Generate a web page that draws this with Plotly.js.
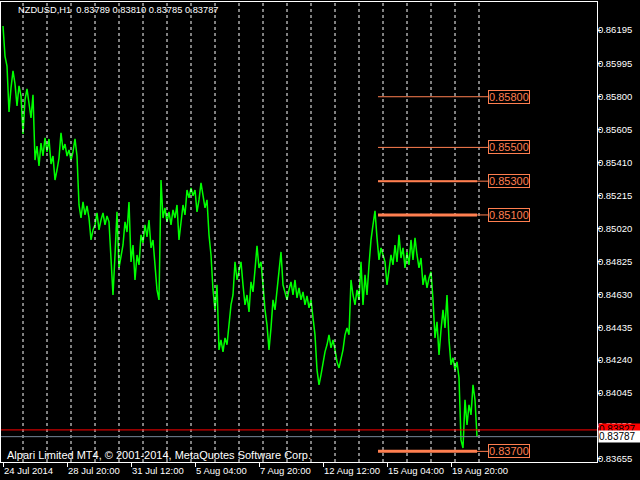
<!DOCTYPE html>
<html>
<head>
<meta charset="utf-8">
<script src="https://cdn.plot.ly/plotly-3.0.1.min.js"></script>
<style>html,body{margin:0;padding:0;background:#000;}#chart{width:640px;height:480px;}</style>
</head>
<body>
<div id="chart"></div>
<script>
// ---- data ----
const symbolTitle = "NZDUSD,H1\u00A0\u00A00.83789 0.83810 0.83785 0.83787";
const barStep = 2; // hours between samples (H1 bars)
const closePrices = [
0.86219,0.86041,0.85982,0.85710,0.85852,0.85953,0.85876,0.85745,0.85864,0.85805,
0.85580,0.85781,0.85846,0.85757,0.85674,0.85811,0.85425,0.85508,0.85390,0.85526,
0.85449,0.85556,0.85473,0.85550,0.85402,0.85449,0.85307,0.85366,0.85437,0.85586,
0.85485,0.85520,0.85449,0.85485,0.85425,0.85473,0.85550,0.85449,0.85159,0.85082,
0.85177,0.85100,0.85153,0.85082,0.84952,0.85011,0.85041,0.85112,0.85011,0.85070,
0.85112,0.85041,0.85094,0.85059,0.84822,0.84626,0.84863,0.85118,0.84786,0.84845,
0.84922,0.85059,0.84999,0.85177,0.84822,0.84922,0.84715,0.84863,0.84804,0.84982,
0.84934,0.85041,0.84970,0.85070,0.84905,0.84952,0.84804,0.84656,0.84597,0.85307,
0.85082,0.85142,0.85059,0.85118,0.85041,0.85130,0.85082,0.85159,0.84952,0.85059,
0.85159,0.85100,0.85248,0.85201,0.85260,0.85213,0.85248,0.85118,0.85189,0.85290,
0.85219,0.85142,0.85189,0.84982,0.84863,0.84656,0.84538,0.84686,0.84301,0.84360,
0.84289,0.84372,0.84331,0.84467,0.84567,0.84626,0.84822,0.84715,0.84775,0.84822,
0.84686,0.84567,0.84626,0.84526,0.84704,0.84644,0.84775,0.84917,0.84786,0.84822,
0.84686,0.84538,0.84449,0.84301,0.84431,0.84597,0.84538,0.84656,0.84804,0.84881,
0.84686,0.84644,0.84597,0.84656,0.84704,0.84626,0.84715,0.84609,0.84668,0.84597,
0.84644,0.84567,0.84621,0.84550,0.84597,0.84490,0.84390,0.84182,0.84094,0.84153,
0.84230,0.84289,0.84331,0.84390,0.84313,0.84360,0.84301,0.84230,0.84194,0.84254,
0.84301,0.84390,0.84431,0.84390,0.84715,0.84626,0.84567,0.84656,0.84597,0.84822,
0.84567,0.84745,0.84626,0.84804,0.84952,0.85041,0.85124,0.84964,0.84834,0.84905,
0.84863,0.84822,0.84686,0.84775,0.84863,0.84804,0.84922,0.84822,0.84982,0.84845,
0.84905,0.84786,0.84881,0.84804,0.84952,0.84834,0.84964,0.84863,0.84786,0.84845,
0.84686,0.84745,0.84668,0.84727,0.84763,0.84597,0.84372,0.84467,0.84271,0.84419,
0.84538,0.84431,0.84626,0.84360,0.84212,0.84254,0.84182,0.84230,0.84135,0.83768,
0.83720,0.84005,0.83857,0.83975,0.83916,0.84094,0.84005,0.83787
];
const xTickBars = [0, 64, 128, 192, 256, 320, 384, 448];
const xTickLabels = ["24 Jul 2014", "28 Jul 20:00", "31 Jul 12:00", "5 Aug 04:00",
                     "7 Aug 20:00", "12 Aug 12:00", "15 Aug 04:00", "19 Aug 20:00"];
const dayStartBars = [20, 44, 68, 92, 116, 140, 164, 188, 212, 236,
                      260, 284, 308, 332, 356, 380, 404, 428, 452, 476];
const yTickValues = [0.86195, 0.85995, 0.85800, 0.85605, 0.85410, 0.85215, 0.85020,
                     0.84825, 0.84630, 0.84435, 0.84240, 0.84045, 0.83850, 0.83655];
const yTickLabels = ["0.86195", "0.85995", "0.85800", "0.85605", "0.85410", "0.85215", "0.85020",
                     "0.84825", "0.84630", "0.84435", "0.84240", "0.84045", "0.83850", "0.83655"];
const levelPrices = [0.85800, 0.85500, 0.85300, 0.85100, 0.83700];
const levelLabels = ["0.85800", "0.85500", "0.85300", "0.85100", "0.83700"];
const levelStartBar = 375, levelEndBar = 474, levelLabelBar = 485;
const askPrice = 0.83827, askLabel = "0.83827";
const bidPrice = 0.83787, bidLabel = "0.83787";
const copyrightText = "Alpari Limited MT4, \u00A9 2001-2014, MetaQuotes Software Corp.";

// ---- styles ----
const CORAL = "#FF7F50";
const levelWidths = [1, 1, 2, 3, 3];
const FONT = "Liberation Sans, Arial, sans-serif";

const shapes = [];
dayStartBars.forEach(b => shapes.push({
  type: "line", xref: "x", yref: "paper", x0: b, x1: b, y0: 0, y1: 1,
  line: {color: "#FFFFFF", width: 1, dash: "3px,3px"}, layer: "above"
}));
levelPrices.forEach((p, i) => {
  shapes.push({type: "line", xref: "x", yref: "y", x0: levelStartBar, x1: levelLabelBar, y0: p, y1: p,
    line: {color: CORAL, width: 1}, layer: "above"});
  if (levelWidths[i] > 1) {
    shapes.push({type: "line", xref: "x", yref: "y", x0: levelStartBar, x1: levelEndBar, y0: p, y1: p,
      line: {color: CORAL, width: levelWidths[i]}, layer: "above"});
  }
});
shapes.push({type: "line", xref: "paper", yref: "y", x0: 0, x1: 1, y0: askPrice, y1: askPrice,
  line: {color: "#FF0000", width: 1}, layer: "above"});
shapes.push({type: "line", xref: "paper", yref: "y", x0: 0, x1: 1, y0: bidPrice, y1: bidPrice,
  line: {color: "#778899", width: 1}, layer: "above"});

const annotations = [];
levelPrices.forEach((p, i) => annotations.push({
  xref: "x", yref: "y", x: levelLabelBar, y: p, xanchor: "left", yanchor: "middle",
  text: levelLabels[i], showarrow: false, font: {family: FONT, size: 11, color: CORAL},
  bgcolor: "#000000", bordercolor: CORAL, borderwidth: 1, borderpad: 0
}));
annotations.push({xref: "paper", yref: "y", x: 1, y: askPrice, xanchor: "left", yanchor: "middle",
  xshift: 1, width: 42, align: "left", text: askLabel, showarrow: false,
  font: {family: FONT, size: 10, color: "#000000"}, bgcolor: "#FF0000", borderpad: 0});
annotations.push({xref: "paper", yref: "y", x: 1, y: bidPrice, xanchor: "left", yanchor: "middle",
  xshift: 1, width: 42, align: "left", text: bidLabel, showarrow: false,
  font: {family: FONT, size: 10, color: "#000000"}, bgcolor: "#FFFFFF", borderpad: 0});
annotations.push({xref: "paper", yref: "paper", x: 0.007, y: 0.015, xanchor: "left", yanchor: "middle",
  text: copyrightText, showarrow: false, font: {family: FONT, size: 11, color: "#FFFFFF"}});

const trace = {
  type: "scatter", mode: "lines", x0: 0, dx: barStep, y: closePrices,
  line: {color: "#00FF00", width: 1.5}, hoverinfo: "skip"
};

const layout = {
  width: 640, height: 480,
  margin: {l: 1, r: 43, t: 2, b: 18, pad: 0},
  paper_bgcolor: "#000000", plot_bgcolor: "#000000",
  showlegend: false,
  title: {text: symbolTitle, x: 18/640, xanchor: "left", xref: "container",
          y: 1 - 10/480, yanchor: "middle", yref: "container",
          font: {family: FONT, size: 9.3, color: "#FFFFFF"}},
  xaxis: {range: [-2, 594], showgrid: false, zeroline: false,
          showline: true, mirror: true, linecolor: "#FFFFFF", linewidth: 1,
          tickmode: "array", tickvals: xTickBars, ticktext: xTickLabels,
          ticks: "outside", ticklen: 4, tickcolor: "#FFFFFF", tickwidth: 1,
          tickangle: 0, automargin: false,
          ticklabelposition: "outside right",
          tickfont: {family: FONT, size: 9.5, color: "#FFFFFF"}},
  yaxis: {range: [0.83637, 0.86361], side: "right", showgrid: false, zeroline: false,
          showline: true, mirror: true, linecolor: "#FFFFFF", linewidth: 1,
          tickmode: "array", tickvals: yTickValues, ticktext: yTickLabels,
          ticks: "outside", ticklen: 3, tickcolor: "#FFFFFF", tickwidth: 1,
          ticklabelstandoff: -5,
          automargin: false,
          tickfont: {family: FONT, size: 9.5, color: "#FFFFFF"}},
  shapes: shapes,
  annotations: annotations
};

Plotly.newPlot("chart", [trace], layout, {staticPlot: true, displayModeBar: false});
</script>
</body>
</html>
